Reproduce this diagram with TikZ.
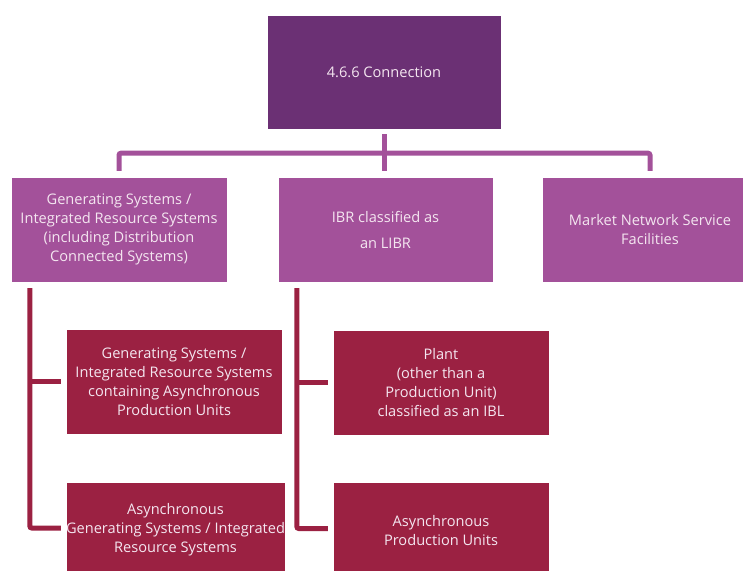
\documentclass[tikz,border=0pt]{standalone}
\usepackage{fontspec}
\setmainfont{Open Sans}
\usepackage{tikz}
\usetikzlibrary{positioning, calc}
\definecolor{headcolor}{RGB}{107,48,116}
\definecolor{groupcolor}{RGB}{163,81,154}
\definecolor{itemcolor}{RGB}{155,33,66}
\definecolor{labelcolor}{RGB}{244,230,240}

\begin{document}
\begin{tikzpicture}[
    x=1pt, y=1pt,
    box/.style={inner sep=0pt, align=center, text=labelcolor, font=\fontsize{14.6}{19}\selectfont, draw=white, line width=0.4pt},
    head/.style={box, fill=headcolor, minimum width=234, minimum height=114},
    group/.style={box, fill=groupcolor, minimum width=216, minimum height=105},
    item/.style={box, fill=itemcolor, minimum width=216, minimum height=105},
    trunk/.style={groupcolor, line width=5pt, rounded corners=2pt},
    branch/.style={itemcolor, line width=5pt, rounded corners=2pt}
]
    \useasboundingbox (0,0) rectangle (743,570);
    \begin{scope}
    \clip (0,0) rectangle (743,570);
    % Top level
    \node[head] (conn) at (384,498) {4.6.6 Connection};

    % Second level
    \node[group] (gen) at (119,340.5) {Generating Systems /\\Integrated Resource Systems\\(including Distribution\\Connected Systems)};
    \node[group, minimum width=215, font=\fontsize{14.6}{26}\selectfont] (ibr) at (385.5,340.5) {IBR classified as\\an LIBR};
    \node[group] (mns) at (650,340.5) {Market Network Service\\Facilities};

    % Third level
    \node[item] (gsa) at (174,188.5) {Generating Systems /\\Integrated Resource Systems\\containing Asynchronous\\Production Units};
    \node[item, minimum width=219, minimum height=96] (agsa) at (175.5,40) {Asynchronous\\Generating Systems / Integrated\\Resource Systems};
    \node[item] (plant) at (441,187.5) {Plant\\(other than a\\Production Unit)\\classified as an IBL};
    \node[item, minimum height=96] (apu) at (441,39.5) {Asynchronous\\Production Units};

    % Connectors from the top
    \coordinate (bar) at ($(conn.south)+(0,-24)$);
    \draw[trunk] ([yshift=-5]conn.south) -- ($(conn.south |- ibr.north)+(0,6)$);
    \draw[trunk] ([yshift=6]gen.north) |- (bar) -| ([yshift=6]mns.north);

    % Branches below the groups
    \coordinate (genstem) at ($(gen.south west)+(19,-6)$);
    \coordinate (ibrstem) at ($(ibr.south west)+(19,-6)$);
    \draw[branch] (genstem) |- ([xshift=-5,yshift=2]agsa.west);
    \draw[branch] (genstem |- gsa.west) -- ([xshift=-5]gsa.west);
    \draw[branch] (ibrstem) |- ([xshift=-5,yshift=2]apu.west);
    \draw[branch] (ibrstem |- plant.west) -- ([xshift=-5]plant.west);
    \end{scope}
\end{tikzpicture}
\end{document}
